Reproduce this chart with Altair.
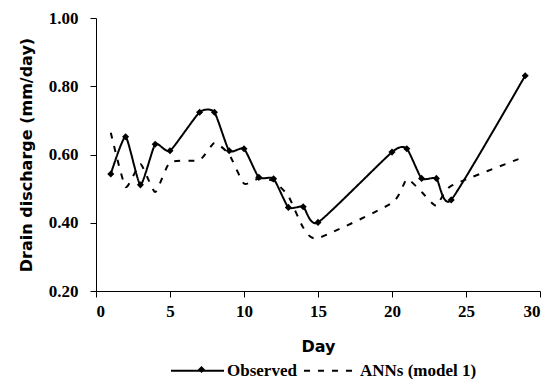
import altair as alt
import pandas as pd

days = [1, 2, 3, 4, 5, 7, 8, 9, 10, 11, 12, 13, 14, 15, 20, 21, 22, 23, 24, 29]
observed = [0.543, 0.652, 0.511, 0.630, 0.611, 0.724, 0.724, 0.611, 0.617, 0.533,
            0.529, 0.445, 0.447, 0.401, 0.607, 0.617, 0.530, 0.530, 0.467, 0.831]
anns = [0.664, 0.505, 0.572, 0.490, 0.577, 0.584, 0.634, 0.600, 0.515, 0.530,
        0.522, 0.478, 0.386, 0.355, 0.458, 0.527, 0.490, 0.450, 0.508, 0.594]
series_names = ["Observed", "ANNs (model 1)"]
x_ticks = [0, 5, 10, 15, 20, 25, 30]
y_ticks = [0.20, 0.40, 0.60, 0.80, 1.00]

rows = []
for d, v in zip(days, observed):
    rows.append({"day": d, "value": v, "series": series_names[0]})
for d, v in zip(days, anns):
    rows.append({"day": d, "value": v, "series": series_names[1]})
df = pd.DataFrame(rows)

x_enc = alt.X("day:Q", scale=alt.Scale(domain=[0, 30], nice=False),
              axis=alt.Axis(values=x_ticks, title="Day", titlePadding=19, labelPadding=6))
y_enc = alt.Y("value:Q", scale=alt.Scale(domain=[0.2, 1.0], nice=False, zero=False),
              axis=alt.Axis(values=y_ticks, format=".2f", title="Drain discharge (mm/day)",
                            titlePadding=14, labelPadding=12))

LEG_X = 74
lines = alt.Chart(df).mark_line(interpolate="cardinal", tension=0.45, strokeWidth=2,
                                color="black").encode(
    x=x_enc,
    y=y_enc,
    strokeDash=alt.StrokeDash(
        "series:N",
        scale=alt.Scale(domain=series_names, range=[[1, 0], [6, 8]]),
        legend=alt.Legend(orient="none", legendX=LEG_X, legendY=325, direction="horizontal",
                          title=None, symbolType="stroke", symbolSize=2809,
                          symbolStrokeWidth=2, symbolStrokeColor="black",
                          labelFont="Liberation Serif", labelFontWeight="bold",
                          labelFontSize=17, labelColor="black", labelOffset=2,
                          columnPadding=3, padding=0),
    ),
)

points = alt.Chart(df).transform_filter(
    alt.datum.series == series_names[0]
).mark_point(filled=True, size=50, color="black", opacity=1).encode(
    x=x_enc,
    y=y_enc,
    shape=alt.Shape(
        "series:N",
        scale=alt.Scale(domain=[series_names[0]], range=["diamond"]),
        legend=alt.Legend(orient="none", legendX=LEG_X + 23, legendY=343, title=None,
                          labelExpr="''", symbolSize=50, symbolFillColor="black",
                          symbolStrokeColor="black", symbolStrokeWidth=0,
                          labelFontSize=17, padding=0),
    ),
)

chart = alt.layer(lines, points).properties(
    width=444, height=273,
    autosize=alt.AutoSizeParams(type="none"),
    padding={"left": 88, "top": 10, "right": 7, "bottom": 88},
    background="white",
).configure_view(stroke=None).configure_axis(
    grid=False,
    domainColor="black", tickColor="black", tickSize=6,
    labelFont="Liberation Serif", labelFontWeight="bold", labelFontSize=17, labelColor="black",
    titleFont="DejaVu Sans", titleFontWeight="bold", titleFontSize=16, titleColor="black",
)

chart.save("out.html", embed_options={"renderer": "svg", "actions": False})
